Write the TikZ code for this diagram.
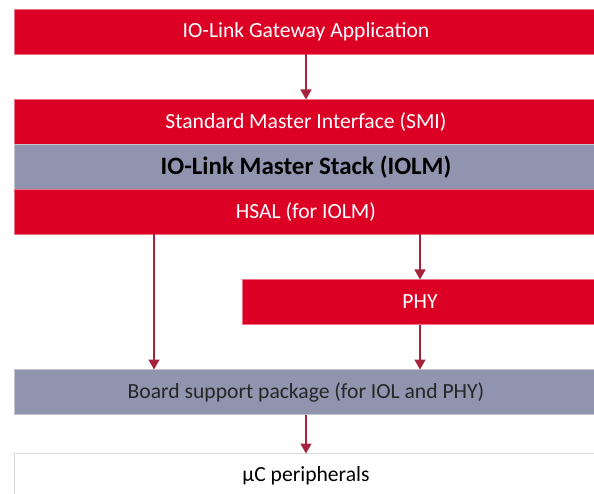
\documentclass[tikz,border=0pt]{standalone}
\usepackage{fontspec}
\setmainfont{Carlito}
\usetikzlibrary{positioning,arrows.meta}
\definecolor{ifxred}{RGB}{220,0,37}
\definecolor{ifxgrey}{RGB}{145,148,174}
\definecolor{arrowred}{RGB}{165,35,60}
\tikzset{node distance=45pt, auto,
  layer/.style={minimum width=584pt, minimum height=45pt, inner sep=0pt, outer sep=0pt,
    font=\fontsize{21.6}{24}\selectfont},
  redlayer/.style={layer, fill=ifxred, draw=ifxred!55!white, text=white},
  greylayer/.style={layer, fill=ifxgrey, draw=ifxgrey!55!white, text=black!85},
  flow/.style={draw=arrowred, line width=1.4pt, -{Triangle[width=11pt,length=10pt]}}}

\begin{document}
\begin{tikzpicture}
  \useasboundingbox (0,0) rectangle (594pt,493pt);
  \clip (0,0) rectangle (594pt,493pt);

  \node[redlayer] (app) at (306pt,461pt) {IO-Link Gateway Application};
  \node[redlayer] (smi) [below=of app] {Standard Master Interface (SMI)};
  \node[greylayer, text=black, font=\fontsize{25}{28}\selectfont\bfseries] (iolm) [below=0pt of smi] {IO-Link Master Stack (IOLM)};
  \node[redlayer] (hsal) [below=0pt of iolm] {HSAL (for IOLM)};
  \node[redlayer, minimum width=356pt] (phy) [below left=45pt and 0pt of hsal.south east] {PHY};
  \node[greylayer] (bsp) [below=135pt of hsal] {Board support package (for IOL and PHY)};
  \node[layer, fill=white, draw=black!15] (muc) [below=39pt of bsp] {μC peripherals};

  \draw[flow] (app) -- (smi);
  \draw[flow] (phy.north |- hsal.south) -- (phy);
  \draw[flow] ([xshift=140pt]hsal.south west) -- ([xshift=140pt]bsp.north west);
  \draw[flow] (phy) -- (phy.south |- bsp.north);
  \draw[flow] (bsp) -- (muc);

\end{tikzpicture}
\end{document}
